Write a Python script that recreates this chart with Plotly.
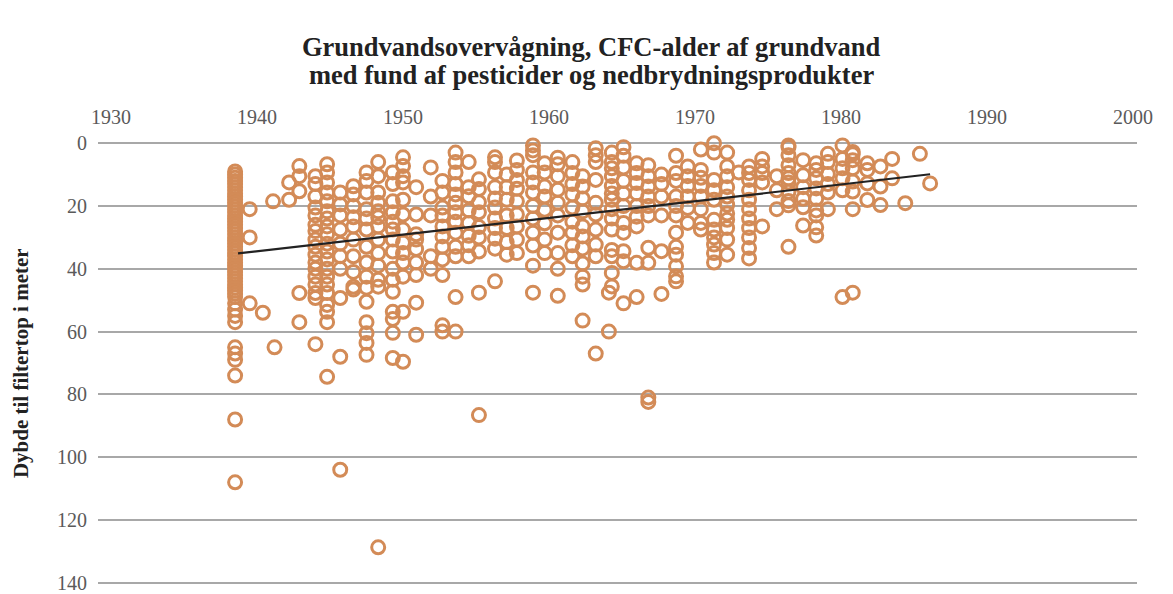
"""
Grundvandsovervågning: CFC-alder af grundvand vs. dybde til filtertop.
"""

import plotly.graph_objects as go

# (CFC-alder / år, dybde til filtertop i meter)
pts_1930s = [
    (1938.5, 9), (1938.5, 10), (1938.5, 11), (1938.5, 12), (1938.5, 13),
    (1938.5, 14), (1938.5, 15), (1938.5, 16), (1938.5, 17), (1938.5, 18),
    (1938.5, 19), (1938.5, 20), (1938.5, 21), (1938.5, 22), (1938.5, 23),
    (1938.5, 24), (1938.5, 25), (1938.5, 26), (1938.5, 27), (1938.5, 28),
    (1938.5, 29), (1938.5, 30), (1938.5, 31), (1938.5, 32), (1938.5, 33),
    (1938.5, 34), (1938.5, 35), (1938.5, 36), (1938.5, 37), (1938.5, 38),
    (1938.5, 39), (1938.5, 40), (1938.5, 41), (1938.5, 42), (1938.5, 43),
    (1938.5, 44), (1938.5, 45), (1938.5, 46), (1938.5, 47), (1938.5, 48),
    (1938.5, 49), (1938.5, 51), (1938.5, 53), (1938.5, 55), (1938.5, 57),
    (1938.5, 65), (1938.5, 67), (1938.5, 69), (1938.5, 74), (1938.5, 88),
    (1938.5, 108),
    (1939.5, 21), (1939.5, 30), (1939.5, 51),
]

pts_1940s = [
    (1940.4, 54), (1941.1, 18.5), (1941.2, 65),
    (1942.2, 12.5), (1942.2, 18),
    (1942.9, 7.3), (1942.9, 10.5), (1942.9, 15.3), (1942.9, 47.7), (1942.9, 57),
    (1944.0, 10.5), (1944.0, 13), (1944.0, 17), (1944.0, 20.5), (1944.0, 23),
    (1944.0, 26), (1944.0, 28), (1944.0, 30.7), (1944.0, 33), (1944.0, 35.5),
    (1944.0, 38), (1944.0, 40), (1944.0, 42.5), (1944.0, 45), (1944.0, 47.7),
    (1944.0, 49.3), (1944.0, 64),
    (1944.8, 6.7), (1944.8, 9.3), (1944.8, 12.5), (1944.8, 15.7), (1944.8, 18.5),
    (1944.8, 21.7), (1944.8, 24), (1944.8, 26.5), (1944.8, 29), (1944.8, 32),
    (1944.8, 34.5), (1944.8, 37), (1944.8, 40), (1944.8, 42.5), (1944.8, 45),
    (1944.8, 47.7), (1944.8, 51.5), (1944.8, 53.7), (1944.8, 57), (1944.8, 74.4),
    (1945.7, 15.7), (1945.7, 19.5), (1945.7, 23), (1945.7, 27.5), (1945.7, 32),
    (1945.7, 36), (1945.7, 40), (1945.7, 49.3), (1945.7, 68), (1945.7, 104),
    (1946.6, 13.7), (1946.6, 16.3), (1946.6, 20), (1946.6, 23.6), (1946.6, 26.5),
    (1946.6, 30.7), (1946.6, 36), (1946.6, 41), (1946.6, 45.7), (1946.6, 46.6),
    (1947.5, 9.3), (1947.5, 12), (1947.5, 15.7), (1947.5, 21), (1947.5, 24),
    (1947.5, 27.5), (1947.5, 33), (1947.5, 38), (1947.5, 42.5), (1947.5, 46),
    (1947.5, 50.5), (1947.5, 57), (1947.5, 60.5), (1947.5, 63.6), (1947.5, 67.4),
    (1948.3, 6), (1948.3, 10.5), (1948.3, 15.7), (1948.3, 19), (1948.3, 21.7),
    (1948.3, 23.6), (1948.3, 26.5), (1948.3, 30.7), (1948.3, 35), (1948.3, 39),
    (1948.3, 43.5), (1948.3, 45.7), (1948.3, 128.7),
    (1949.3, 9.3), (1949.3, 13), (1949.3, 18.5), (1949.3, 22), (1949.3, 25),
    (1949.3, 27.5), (1949.3, 30.7), (1949.3, 34.5), (1949.3, 40), (1949.3, 43.5),
    (1949.3, 47.3), (1949.3, 53.7), (1949.3, 56), (1949.3, 60.4), (1949.3, 68.4),
]

pts_1950s = [
    (1950.0, 4.5), (1950.0, 7.3), (1950.0, 10.5), (1950.0, 12.5), (1950.0, 18),
    (1950.0, 22.7), (1950.0, 27.5), (1950.0, 31.6), (1950.0, 35), (1950.0, 38),
    (1950.0, 42.5), (1950.0, 53.7), (1950.0, 69.6),
    (1950.9, 14), (1950.9, 22.7), (1950.9, 29), (1950.9, 30.7), (1950.9, 33.7),
    (1950.9, 38), (1950.9, 42), (1950.9, 50.8), (1950.9, 61),
    (1951.9, 7.7), (1951.9, 17), (1951.9, 23), (1951.9, 36), (1951.9, 40),
    (1952.7, 12), (1952.7, 15.7), (1952.7, 20.5), (1952.7, 23), (1952.7, 26.5),
    (1952.7, 29.7), (1952.7, 33), (1952.7, 37), (1952.7, 42), (1952.7, 58),
    (1952.7, 60),
    (1953.6, 3), (1953.6, 6), (1953.6, 9.3), (1953.6, 13), (1953.6, 16.3),
    (1953.6, 19), (1953.6, 22), (1953.6, 25), (1953.6, 28.5), (1953.6, 33),
    (1953.6, 36), (1953.6, 49), (1953.6, 60),
    (1954.5, 6), (1954.5, 14), (1954.5, 16.9), (1954.5, 21.4), (1954.5, 25.4),
    (1954.5, 29.5), (1954.5, 32.5), (1954.5, 36),
    (1955.2, 11.5), (1955.2, 14.6), (1955.2, 18.8), (1955.2, 22), (1955.2, 26.7),
    (1955.2, 30), (1955.2, 34.5), (1955.2, 47.6), (1955.2, 86.6),
    (1956.3, 4.5), (1956.3, 6), (1956.3, 9.3), (1956.3, 14), (1956.3, 17.6),
    (1956.3, 20.5), (1956.3, 24), (1956.3, 27), (1956.3, 30.4), (1956.3, 33.6),
    (1956.3, 44),
    (1957.1, 10), (1957.1, 14), (1957.1, 18), (1957.1, 23), (1957.1, 27),
    (1957.1, 31.5), (1957.1, 35.5),
    (1957.8, 5.5), (1957.8, 8.5), (1957.8, 11.7), (1957.8, 14.5), (1957.8, 18.5),
    (1957.8, 22.7), (1957.8, 26.5), (1957.8, 30.7), (1957.8, 35),
    (1958.9, 0.7), (1958.9, 2.3), (1958.9, 3.8), (1958.9, 9.3), (1958.9, 12.5),
    (1958.9, 15.7), (1958.9, 20), (1958.9, 24), (1958.9, 28.5), (1958.9, 32.6),
    (1958.9, 39), (1958.9, 47.6),
    (1959.7, 6.4), (1959.7, 9.3), (1959.7, 13.8), (1959.7, 17), (1959.7, 21.2),
    (1959.7, 25.5), (1959.7, 30.7), (1959.7, 35),
]

pts_1960s = [
    (1960.6, 4.6), (1960.6, 6.7), (1960.6, 10.5), (1960.6, 14.8), (1960.6, 19),
    (1960.6, 23), (1960.6, 28.5), (1960.6, 35), (1960.6, 40), (1960.6, 48.6),
    (1961.6, 6), (1961.6, 9.5), (1961.6, 13), (1961.6, 16.3), (1961.6, 20.5),
    (1961.6, 25), (1961.6, 28.5), (1961.6, 32.5), (1961.6, 36),
    (1962.3, 10.5), (1962.3, 13.8), (1962.3, 17.6), (1962.3, 21.7), (1962.3, 26.5),
    (1962.3, 29.7), (1962.3, 33.5), (1962.3, 38.3), (1962.3, 42.5), (1962.3, 45),
    (1962.3, 56.5),
    (1963.2, 1.6), (1963.2, 3.8), (1963.2, 6), (1963.2, 11.7), (1963.2, 19),
    (1963.2, 22.7), (1963.2, 27.5), (1963.2, 32.3), (1963.2, 36), (1963.2, 67),
    (1964.1, 47.6), (1964.1, 60),
    (1964.3, 3), (1964.3, 6), (1964.3, 8), (1964.3, 10.5), (1964.3, 13.6),
    (1964.3, 16), (1964.3, 18), (1964.3, 21), (1964.3, 24), (1964.3, 27.5),
    (1964.3, 34), (1964.3, 36), (1964.3, 41.3), (1964.3, 45.6),
    (1965.1, 1.3), (1965.1, 4), (1965.1, 7.7), (1965.1, 12), (1965.1, 16),
    (1965.1, 20), (1965.1, 25.4), (1965.1, 28.5), (1965.1, 34.4), (1965.1, 37.6),
    (1965.1, 51),
    (1966.0, 6.4), (1966.0, 9.5), (1966.0, 12.7), (1966.0, 16), (1966.0, 20),
    (1966.0, 23.4), (1966.0, 26.5), (1966.0, 38.1), (1966.0, 49),
    (1966.8, 7), (1966.8, 10.5), (1966.8, 13.8), (1966.8, 17), (1966.8, 20),
    (1966.8, 23), (1966.8, 33.3), (1966.8, 38.1), (1966.8, 81), (1966.8, 82.4),
    (1967.7, 10), (1967.7, 13), (1967.7, 17), (1967.7, 23), (1967.7, 34.4),
    (1967.7, 48),
    (1968.7, 4), (1968.7, 9.5), (1968.7, 12), (1968.7, 17), (1968.7, 20),
    (1968.7, 23), (1968.7, 28.5), (1968.7, 33), (1968.7, 35.5), (1968.7, 39.2),
    (1968.7, 42.4), (1968.7, 44),
    (1969.5, 7.4), (1969.5, 10.5), (1969.5, 13.6), (1969.5, 17), (1969.5, 20.6),
    (1969.5, 25.4),
]

pts_1970s = [
    (1970.4, 2), (1970.4, 8.5), (1970.4, 11), (1970.4, 13.6), (1970.4, 17),
    (1970.4, 21), (1970.4, 25.4), (1970.4, 27.5),
    (1971.3, 0), (1971.3, 3), (1971.3, 11.7), (1971.3, 15), (1971.3, 18),
    (1971.3, 24.4), (1971.3, 27.5), (1971.3, 30), (1971.3, 32.3), (1971.3, 35),
    (1971.3, 38),
    (1972.2, 3), (1972.2, 7.4), (1972.2, 10.5), (1972.2, 14), (1972.2, 17),
    (1972.2, 19.6), (1972.2, 22.4), (1972.2, 24.4), (1972.2, 27), (1972.2, 30.7),
    (1972.2, 35.5),
    (1973.0, 9.3),
    (1973.7, 7.4), (1973.7, 9.5), (1973.7, 11.7), (1973.7, 15), (1973.7, 18),
    (1973.7, 21), (1973.7, 24), (1973.7, 27), (1973.7, 30), (1973.7, 33.4),
    (1973.7, 36.7),
    (1974.6, 5), (1974.6, 7.4), (1974.6, 9.5), (1974.6, 12.5), (1974.6, 26.5),
    (1975.6, 10.5), (1975.6, 15), (1975.6, 21),
    (1976.4, 0.7), (1976.4, 1.3), (1976.4, 3.8), (1976.4, 7), (1976.4, 9.5),
    (1976.4, 11.2), (1976.4, 12.5), (1976.4, 15.5), (1976.4, 18.4), (1976.4, 19.8),
    (1976.4, 33),
    (1977.4, 5.4), (1977.4, 10.2), (1977.4, 14), (1977.4, 17.7), (1977.4, 20.4),
    (1977.4, 26.2),
    (1978.3, 6.4), (1978.3, 8.5), (1978.3, 11.2), (1978.3, 14.4), (1978.3, 17.7),
    (1978.3, 21.4), (1978.3, 23), (1978.3, 26.8), (1978.3, 29.4),
    (1979.1, 3.4), (1979.1, 6), (1979.1, 9.8), (1979.1, 13), (1979.1, 15.7),
    (1979.1, 21),
]

pts_1980s = [
    (1980.1, 0.7), (1980.1, 5), (1980.1, 8), (1980.1, 11.2), (1980.1, 15),
    (1980.1, 49),
    (1980.8, 2.8), (1980.8, 3.5), (1980.8, 5.4), (1980.8, 8), (1980.8, 12.2),
    (1980.8, 15.4), (1980.8, 21), (1980.8, 47.6),
    (1981.8, 6.4), (1981.8, 8.5), (1981.8, 12.8), (1981.8, 18.1),
    (1982.7, 7.4), (1982.7, 13.8), (1982.7, 19.7),
    (1983.5, 5), (1983.5, 11.2),
    (1984.4, 19.1),
    (1985.4, 3.4),
    (1986.1, 12.8),
]

# linear trend line as drawn in the reference (end points)
trend_year = [1938.7, 1986.1]
trend_depth = [35.1, 9.9]

x_ticks = [1930, 1940, 1950, 1960, 1970, 1980, 1990, 2000]
y_ticks = [0, 20, 40, 60, 80, 100, 120, 140]

title_lines = [
    "Grundvandsovervågning, CFC-alder af grundvand",
    "med fund af pesticider og nedbrydningsprodukter",
]
y_title = "Dybde til filtertop i meter"

all_pts = pts_1930s + pts_1940s + pts_1950s + pts_1960s + pts_1970s + pts_1980s
years = [p[0] for p in all_pts]
depths = [p[1] for p in all_pts]

SERIF = "Liberation Serif"
POINT_COLOR = "#D38B57"

fig = go.Figure()

fig.add_trace(go.Scatter(
    x=years,
    y=depths,
    mode="markers",
    marker=dict(
        symbol="circle-open",
        size=13,
        color=POINT_COLOR,
        line=dict(width=3, color=POINT_COLOR),
    ),
    cliponaxis=False,
    showlegend=False,
))

fig.add_trace(go.Scatter(
    x=trend_year,
    y=trend_depth,
    mode="lines",
    line=dict(color="#222222", width=2.2),
    cliponaxis=False,
    showlegend=False,
))

# two-line bold title, placed line by line
fig.add_annotation(
    text=f"<b>{title_lines[0]}</b>",
    xref="paper", yref="paper", x=0.4745, y=1.212,
    xanchor="center", yanchor="middle", showarrow=False,
    font=dict(family=SERIF, size=26.5, color="#222222"),
)
fig.add_annotation(
    text=f"<b>{title_lines[1]}</b>",
    xref="paper", yref="paper", x=0.4745, y=1.149,
    xanchor="center", yanchor="middle", showarrow=False,
    font=dict(family=SERIF, size=26.5, color="#222222"),
)
fig.add_annotation(
    text=f"<b>{y_title}</b>",
    xref="paper", yref="paper", x=-0.074, y=0.5,
    xanchor="center", yanchor="middle", textangle=-90, showarrow=False,
    font=dict(family=SERIF, size=21, color="#222222"),
)

# the page body has an 8px margin, so the figure is offset to fit inside it
fig.update_layout(
    width=1157,
    height=586,
    paper_bgcolor="white",
    plot_bgcolor="white",
    margin=dict(l=90, r=28, t=133, b=9),
    font=dict(family=SERIF, color="#555555"),
)

fig.update_xaxes(
    side="top",
    range=[1929.11, 2000.27],
    tickvals=x_ticks,
    ticks="",
    ticklabelstandoff=12,
    tickfont=dict(family=SERIF, size=20, color="#5A5A5A"),
    showgrid=False,
    zeroline=False,
    showline=False,
    automargin=False,
)

fig.update_yaxes(
    range=[140.7, -0.7],
    tickvals=y_ticks,
    ticks="",
    ticklabelstandoff=10,
    ticklabeloverflow="allow",
    tickfont=dict(family=SERIF, size=20, color="#5A5A5A"),
    showgrid=True,
    gridcolor="#A8A8A8",
    gridwidth=1.5,
    zeroline=False,
    showline=False,
    automargin=False,
)

fig.write_html("out.html")
